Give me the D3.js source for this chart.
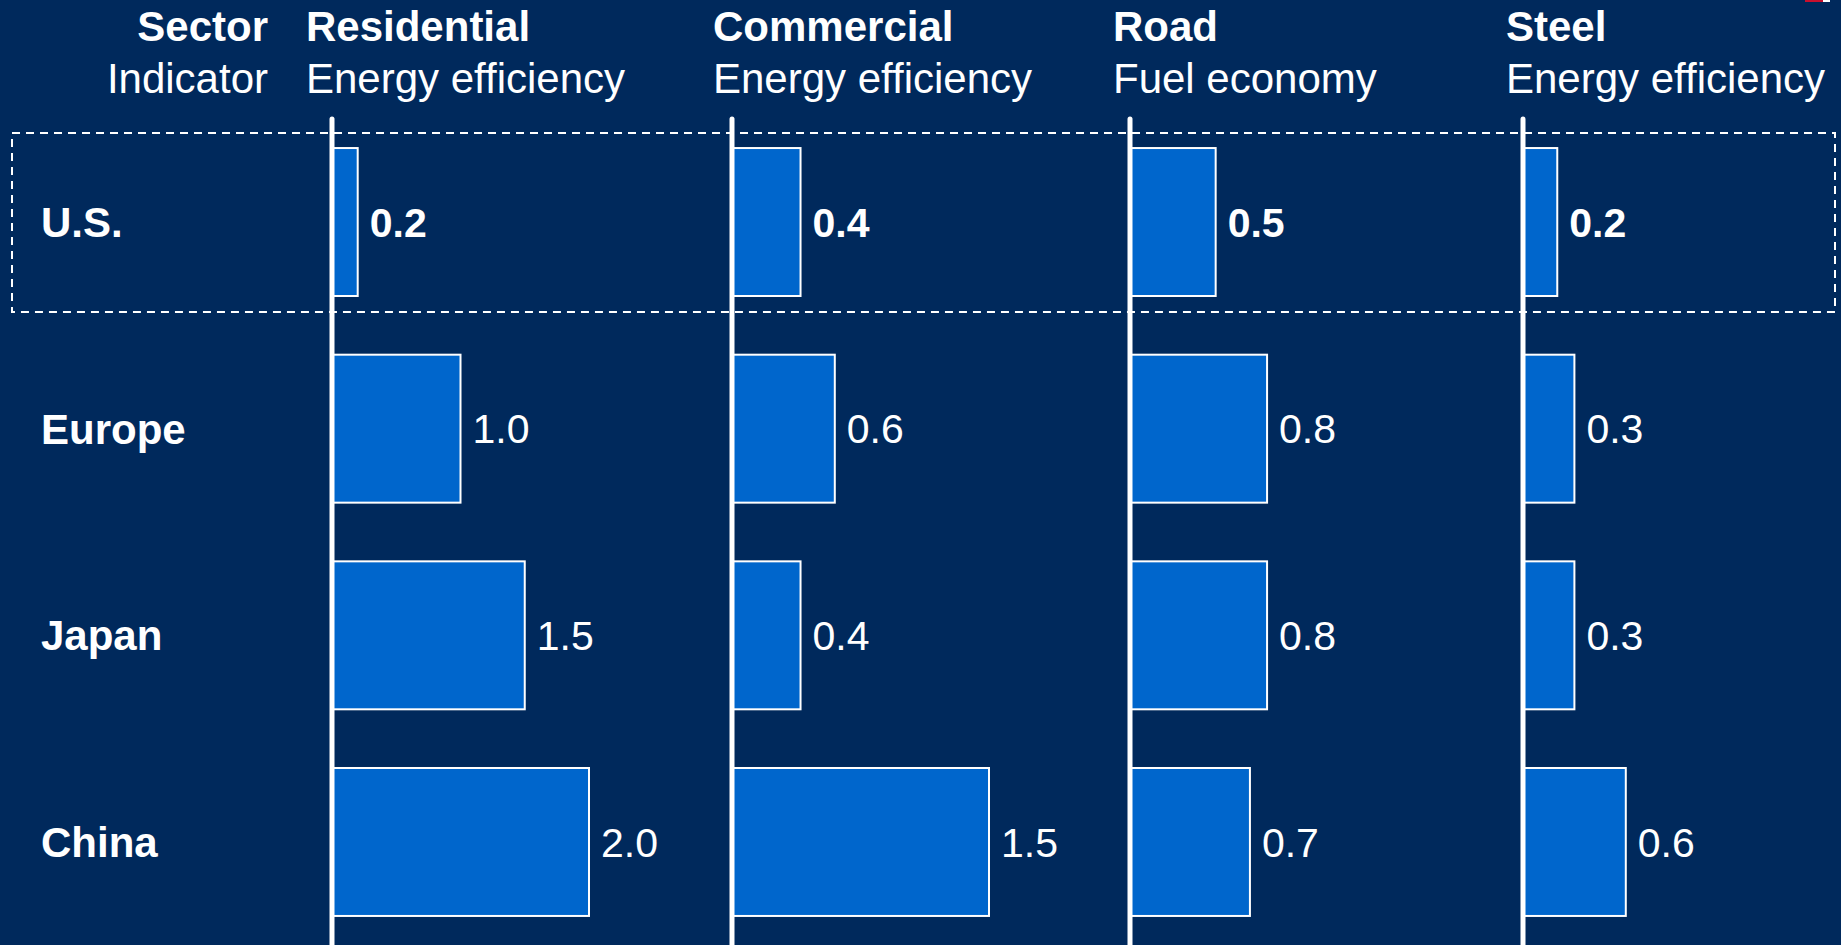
<!DOCTYPE html>
<html>
<head>
<meta charset="utf-8">
<script src="https://cdn.jsdelivr.net/npm/d3@7"></script>
<style>
  html, body { margin: 0; padding: 0; background: #00295C; overflow: hidden; }
  svg { display: block; }
  text { font-family: "Liberation Sans", Arial, Helvetica, sans-serif; fill: #ffffff; }
</style>
</head>
<body>
<svg id="chart" width="1841" height="945"></svg>
<script>
// ---- Data ----
const countries = ["U.S.", "Europe", "Japan", "China"];
const sectors = ["Residential", "Commercial", "Road", "Steel"];
const indicators = ["Energy efficiency", "Energy efficiency", "Fuel economy", "Energy efficiency"];
const residential = [0.2, 1.0, 1.5, 2.0];
const commercial = [0.4, 0.6, 0.4, 1.5];
const road = [0.5, 0.8, 0.8, 0.7];
const steel = [0.2, 0.3, 0.3, 0.6];
const scaleMax = [2.0, 1.5, 1.5, 1.5];
const highlighted = "U.S.";

// ---- Layout ----
const W = 1841, H = 945;
const axisX = [332, 732, 1130, 1523];
const headerX = [306, 713, 1113, 1506];
const barSpan = 257;
const series = [residential, commercial, road, steel];

const svg = d3.select("#chart");
svg.append("rect").attr("width", W).attr("height", H).attr("fill", "#00295C");

// tiny corner mark
svg.append("rect").attr("x", 1805).attr("y", 0).attr("width", 18).attr("height", 2).attr("fill", "#c8102e");
svg.append("rect").attr("x", 1823).attr("y", 0).attr("width", 7).attr("height", 2).attr("fill", "#ffffff");

const y = d3.scaleBand()
  .domain(countries)
  .range([118.7, 945.3])
  .paddingInner(0.284)
  .paddingOuter(0.142);

// highlight dashed box
const hb = y(highlighted);
svg.append("rect")
  .attr("x", 12).attr("y", hb - 15)
  .attr("width", 1823).attr("height", y.bandwidth() + 31)
  .attr("fill", "none")
  .attr("stroke", "#ffffff")
  .attr("stroke-width", 2)
  .attr("stroke-dasharray", "8,6");

// header left
svg.append("text").attr("x", 268).attr("y", 41).attr("text-anchor", "end")
  .attr("font-size", 42).attr("font-weight", "bold").text("Sector");
svg.append("text").attr("x", 268).attr("y", 93).attr("text-anchor", "end")
  .attr("font-size", 42).text("Indicator");

// row labels
svg.selectAll("text.row").data(countries).enter().append("text")
  .attr("class", "row")
  .attr("x", 41)
  .attr("y", d => y(d) + y.bandwidth() / 2)
  .attr("dy", "0.36em")
  .attr("font-size", 42)
  .attr("font-weight", "bold")
  .text(d => d);

sectors.forEach((s, i) => {
  const x = d3.scaleLinear().domain([0, scaleMax[i]]).range([axisX[i], axisX[i] + barSpan]);
  const g = svg.append("g");

  g.append("text").attr("x", headerX[i]).attr("y", 41)
    .attr("font-size", 42).attr("font-weight", "bold").text(s);
  g.append("text").attr("x", headerX[i]).attr("y", 93)
    .attr("font-size", 42).text(indicators[i]);

  const rows = countries.map((c, j) => ({ c, v: series[i][j] }));

  g.selectAll("rect.bar").data(rows).enter().append("rect")
    .attr("class", "bar")
    .attr("x", x(0))
    .attr("y", d => y(d.c))
    .attr("width", d => x(d.v) - x(0))
    .attr("height", y.bandwidth())
    .attr("fill", "#0066CC")
    .attr("stroke", "#ffffff")
    .attr("stroke-width", 2);

  g.selectAll("text.val").data(rows).enter().append("text")
    .attr("class", "val")
    .attr("x", d => x(d.v) + 12)
    .attr("y", d => y(d.c) + y.bandwidth() / 2)
    .attr("dy", "0.36em")
    .attr("font-size", 41)
    .attr("font-weight", d => d.c === highlighted ? "bold" : "normal")
    .text(d => d3.format(".1f")(d.v));

  g.append("line")
    .attr("x1", x(0)).attr("x2", x(0))
    .attr("y1", 119).attr("y2", H + 10)
    .attr("stroke", "#ffffff")
    .attr("stroke-width", 5)
    .attr("stroke-linecap", "round");
});
</script>
</body>
</html>
